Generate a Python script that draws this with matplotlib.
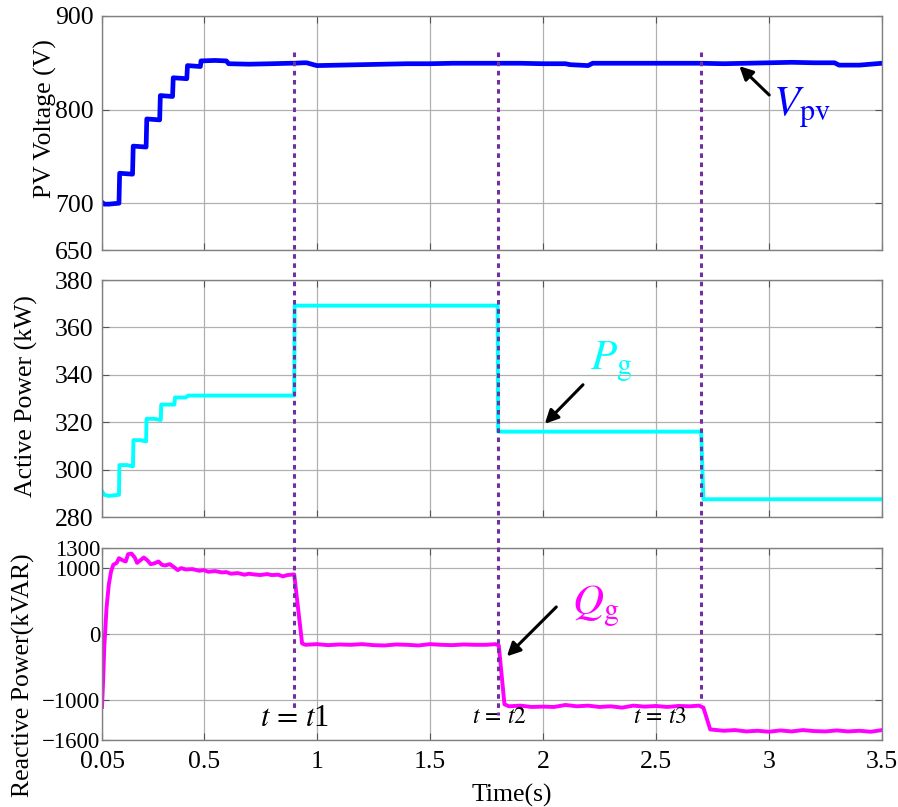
import matplotlib
matplotlib.use('Agg')
import matplotlib.pyplot as plt
from matplotlib.lines import Line2D
from matplotlib import transforms

plt.rcParams['font.family'] = ['Liberation Serif', 'DejaVu Serif']
plt.rcParams['mathtext.fontset'] = 'stix'

# PV voltage (V)
vpv_t = [0.05, 0.06, 0.08, 0.125, 0.128, 0.185, 0.188, 0.245, 0.248, 0.305, 0.308,
         0.362, 0.365, 0.425, 0.428, 0.485, 0.488, 0.55, 0.60, 0.61, 0.7, 0.8, 0.88,
         0.9, 0.94, 0.955, 1.0, 1.1, 1.2, 1.3, 1.4, 1.5, 1.6, 1.7, 1.8, 1.9, 2.0,
         2.1, 2.12, 2.2, 2.22, 2.3, 2.5, 2.7, 2.8, 2.9, 3.0, 3.1, 3.2, 3.29, 3.31,
         3.4, 3.5]
vpv_v = [701, 699, 699, 700, 732, 731, 761, 760, 790, 789, 815,
         814, 834, 833, 847, 846, 852, 852.5, 852, 849, 848.5, 849, 849.5,
         849.5, 850, 850, 847, 847.5, 848, 848.5, 849, 849, 849.5, 849.5, 849.5, 849.5, 849,
         849, 848, 847, 849.5, 849.5, 849.5, 849.5, 849, 849.5, 850, 850.5, 850, 850, 847.5,
         847.5, 849.5]

# Active power (kW)
pg_t = [0.05, 0.06, 0.08, 0.125, 0.127, 0.16, 0.187, 0.189, 0.22, 0.245, 0.247, 0.28,
        0.31, 0.312, 0.34, 0.37, 0.373, 0.42, 0.432, 0.9, 0.902, 1.8, 1.802, 2.7,
        2.71, 3.5]
pg_v = [291, 289.5, 289, 289.5, 302, 302, 301.5, 312.5, 312.5, 312, 321.5, 321.5,
        321, 327.5, 327.5, 327.5, 330.5, 330.5, 331.3, 331.3, 369.2, 369.2, 316.1, 316.1,
        287.6, 287.6]

# Reactive power (kVAR)
qg_t = [0.05, 0.055, 0.06, 0.07, 0.08, 0.09, 0.10, 0.115, 0.125, 0.14, 0.155, 0.165,
        0.18, 0.195, 0.205, 0.22, 0.235, 0.25, 0.265, 0.28, 0.3, 0.315, 0.33, 0.35,
        0.37, 0.385, 0.4, 0.42, 0.45, 0.48, 0.5, 0.52, 0.55, 0.58, 0.6, 0.62, 0.65,
        0.68, 0.7, 0.72, 0.75, 0.78, 0.8, 0.83, 0.85, 0.87, 0.9, 0.935, 0.95, 1.0,
        1.05, 1.1, 1.15, 1.2, 1.25, 1.3, 1.35, 1.4, 1.45, 1.5, 1.55, 1.6, 1.65, 1.7,
        1.75, 1.79, 1.805, 1.83, 1.85, 1.9, 1.95, 2.0, 2.05, 2.1, 2.15, 2.2, 2.25,
        2.3, 2.35, 2.4, 2.45, 2.5, 2.55, 2.6, 2.65, 2.69, 2.71, 2.74, 2.8, 2.85, 2.9,
        2.95, 3.0, 3.05, 3.1, 3.15, 3.2, 3.25, 3.3, 3.35, 3.4, 3.45, 3.5]
qg_v = [-1100, -700, -200, 400, 750, 950, 1050, 1080, 1150, 1120, 1100, 1210,
        1220, 1160, 1080, 1120, 1160, 1120, 1060, 1070, 1100, 1050, 1040, 1060,
        1010, 970, 1000, 980, 985, 960, 970, 945, 955, 935, 940, 915, 925,
        900, 915, 905, 895, 910, 895, 900, 875, 895, 905, -140, -160, -150,
        -165, -155, -160, -150, -165, -170, -155, -160, -170, -150, -160, -165, -155, -160,
        -160, -150, -170, -1060, -1090, -1080, -1100, -1095, -1100, -1070, -1090, -1080, -1100,
        -1090, -1110, -1080, -1095, -1085, -1100, -1085, -1090, -1080, -1110, -1440, -1460, -1450, -1470,
        -1460, -1475, -1455, -1470, -1450, -1465, -1470, -1455, -1470, -1460, -1475, -1450]

x_ticks = [0.05, 0.5, 1, 1.5, 2, 2.5, 3, 3.5]
x_labels = ['0.05', '0.5', '1', '1.5', '2', '2.5', '3', '3.5']
event_t = [0.9, 1.8, 2.7]

fs = 18.5
fig = plt.figure(figsize=(8.98, 8.07), dpi=100)
ax1 = fig.add_axes([0.1136, 0.6902, 0.8686, 0.2900])
ax2 = fig.add_axes([0.1136, 0.3590, 0.8686, 0.2940])
ax3 = fig.add_axes([0.1136, 0.0830, 0.8686, 0.2376])

for ax in (ax1, ax2, ax3):
    ax.set_xlim(0.05, 3.5)
    ax.set_xticks(x_ticks)
    ax.grid(True, color='#b0b0b0', lw=0.9)
    ax.tick_params(direction='in', top=True, right=True, labelsize=fs,
                   color='#555555', length=5, pad=6)
    for s in ax.spines.values():
        s.set_color('#808080')
        s.set_linewidth(1.0)

ax1.plot(vpv_t, vpv_v, color='#0000ff', lw=3.4)
ax1.set_ylim(650, 900)
ax1.set_yticks([650, 700, 800, 900])
ax1.set_xticklabels([])
ax1.set_ylabel('PV Voltage (V)', fontsize=fs)
ax1.yaxis.set_label_coords(-0.058, 0.56)
ax1.annotate('', xy=(2.86, 848.5), xytext=(3.01, 813.5),
             arrowprops=dict(arrowstyle='-|>', color='black', lw=2.2, mutation_scale=20))
ax1.text(3.02, 793, r'$V_{\mathrm{pv}}$', color='#0000ff', fontsize=31, va='baseline')

ax2.plot(pg_t, pg_v, color='#00ffff', lw=2.8)
ax2.set_ylim(280, 380)
ax2.set_yticks([280, 300, 320, 340, 360, 380])
ax2.set_xticklabels([])
ax2.set_ylabel('Active Power (kW)', fontsize=fs)
ax2.yaxis.set_label_coords(-0.082, 0.51)
ax2.annotate('', xy=(2.0, 318.6), xytext=(2.186, 336.7),
             arrowprops=dict(arrowstyle='-|>', color='black', lw=2.2, mutation_scale=20))
ax2.text(2.21, 342, r'$P_{\mathrm{g}}$', color='#00ffff', fontsize=31, va='baseline')

ax3.plot(qg_t, qg_v, color='#ff00ff', lw=2.8)
ax3.set_ylim(-1600, 1300)
ax3.set_yticks([-1600, -1000, 0, 1000, 1300])
ax3.set_xticklabels(x_labels)
ax3.tick_params(axis='y', pad=1, labelsize=16.5)
ax3.tick_params(axis='x', pad=8)
ax3.set_ylabel('Reactive Power(kVAR)', fontsize=fs)
ax3.yaxis.set_label_coords(-0.086, 0.34)
ax3.set_xlabel('Time(s)', fontsize=fs, labelpad=0)
ax3.xaxis.set_label_coords(0.525, -0.23)
ax3.annotate('', xy=(1.832, -364), xytext=(2.068, 442),
             arrowprops=dict(arrowstyle='-|>', color='black', lw=2.2, mutation_scale=20))
ax3.text(2.13, 291, r'$Q_{\mathrm{g}}$', color='#ff00ff', fontsize=31, va='baseline')
ax3.text(0.904, -1390, r'$t\,=\,t$1', fontsize=22, ha='center', va='baseline')
ax3.text(1.81, -1340, r'$t\,=\,t2$', fontsize=17, ha='center', va='baseline')
ax3.text(2.52, -1340, r'$t\,=\,t3$', fontsize=17, ha='center', va='baseline')

# dotted event markers running through all three panels
trans = transforms.blended_transform_factory(ax3.transData, fig.transFigure)
line_bottoms = [0.120, 0.114, 0.129]
for t, yb in zip(event_t, line_bottoms):
    fig.add_artist(Line2D([t, t], [0.9356, yb], transform=trans, color='#7030a0',
                          lw=2.2, linestyle=(0, (1.5, 1.5))))

fig.savefig('out.png', dpi=100)
